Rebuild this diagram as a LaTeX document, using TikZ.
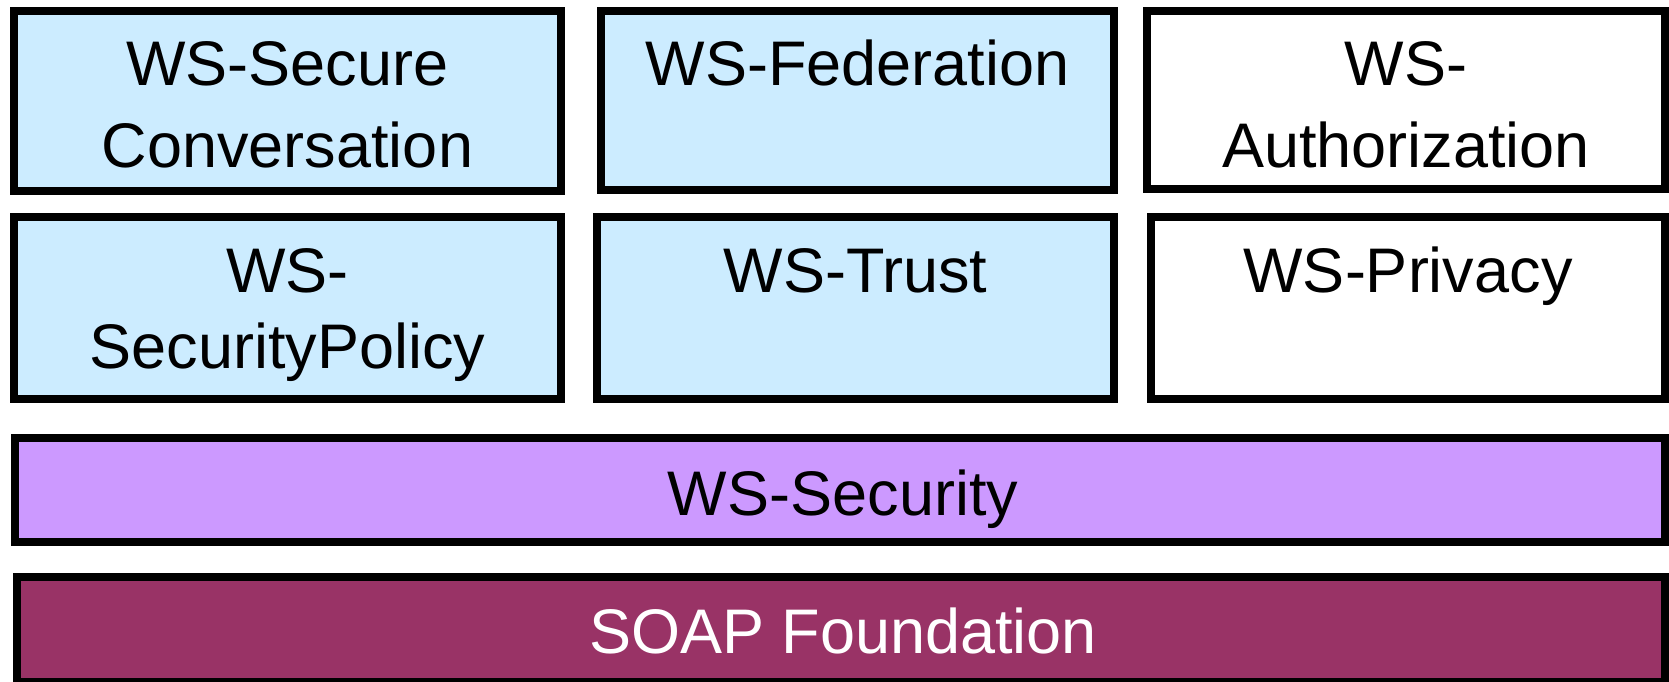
\documentclass[tikz,border=0pt]{standalone}
\usepackage{fontspec}
\setmainfont{Liberation Sans}
\definecolor{lblue}{HTML}{CCECFF}
\definecolor{lpurple}{HTML}{CC99FF}
\definecolor{maroon}{HTML}{993366}
\newcommand\stacktwo[3]{\vtop{\baselineskip=#3\relax\halign{\hfil##\hfil\cr #1\cr #2\cr}}}
\tikzset{
  layerbox/.style={draw=black, line width=8pt, inner sep=0pt, outer sep=0pt, rectangle},
  bluebox/.style={layerbox, fill=lblue},
  whitebox/.style={layerbox, fill=white},
  secbox/.style={layerbox, fill=lpurple},
  soapbox/.style={layerbox, fill=maroon},
  lbl/.style={anchor=base, inner sep=0pt, font=\fontsize{63}{80}\selectfont},
}
\begin{document}
\begin{tikzpicture}[x=1pt,y=-1pt]
\useasboundingbox (0,0) rectangle (1669,681);
\fill[white] (0,0) rectangle (1669,681);
% row 1
\node[bluebox, minimum width=547pt, minimum height=180pt] (a) at (287.5,101) {};
\node[bluebox, minimum width=513pt, minimum height=179pt] (b) at (857.5,100.5) {};
\node[whitebox, minimum width=518pt, minimum height=178pt] (c) at (1406,100) {};
% row 2
\node[bluebox, minimum width=547pt, minimum height=182pt] (d) at (287.5,308) {};
\node[bluebox, minimum width=517pt, minimum height=182pt] (e) at (855.5,308) {};
\node[whitebox, minimum width=514pt, minimum height=182pt] (f) at (1408,308) {};
% WS-Security
\node[secbox, minimum width=1650pt, minimum height=104pt] (sec) at (840,490) {};
% SOAP
\node[soapbox, minimum width=1648pt, minimum height=105pt] (soap) at (841,629.5) {};
% labels
\node[lbl] (ta) at (287.5,85) {\stacktwo{WS-Secure}{Conversation}{82pt}};
\node[lbl] (tb) at (857.5,85) {WS-Federation};
\node[lbl] (tc) at (1406,85) {\stacktwo{WS-}{Authorization}{82pt}};
\node[lbl] (td) at (287.5,292) {\stacktwo{WS-}{SecurityPolicy}{76pt}};
\node[lbl] (te) at (855.5,292) {WS-Trust};
\node[lbl] (tf) at (1408,292) {WS-Privacy};
\node[lbl] (tsec) at (843,515) {WS-Security};
\node[lbl, text=white] (tsoap) at (843,653) {SOAP Foundation};
\end{tikzpicture}
\end{document}
